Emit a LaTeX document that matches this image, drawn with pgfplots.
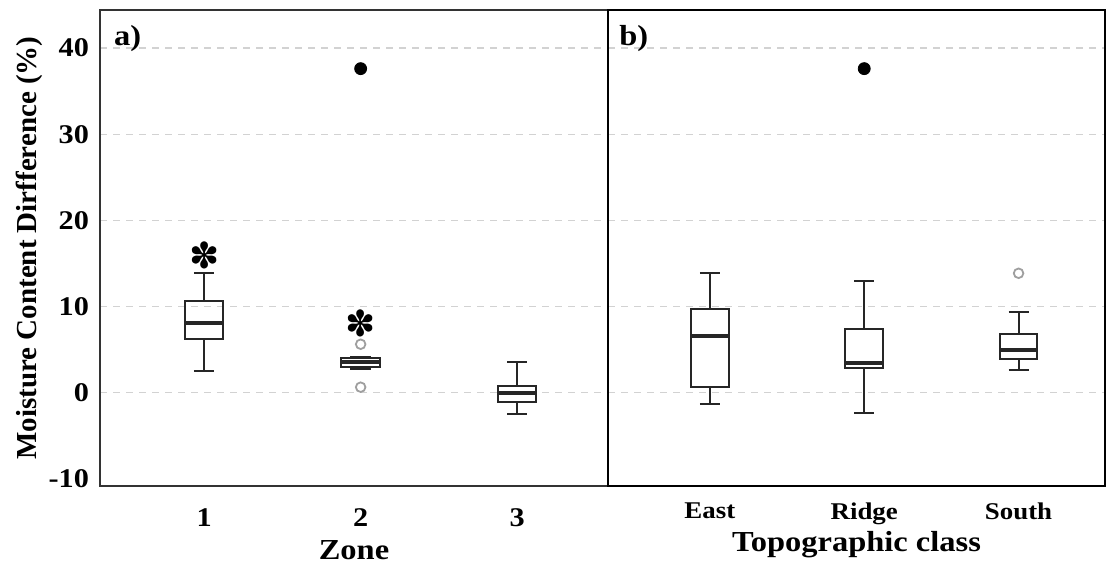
\documentclass[border=0pt]{standalone}
\usepackage{fontspec}
\setmainfont[FakeStretch=1.12]{Liberation Serif}
\newfontfamily\plainserif{Liberation Serif}
\newfontfamily\dejavu{DejaVu Sans}
\usepackage{pgfplots}
\pgfplotsset{compat=1.18}
\usepgfplotslibrary{statistics}
\begin{document}
\begin{tikzpicture}
\pgfplotsset{
  every axis/.append style={
    scale only axis,
    height=238pt,
    ymin=-10.8, ymax=44.4,
    ytick={0,10,20,30,40},
    extra y ticks={-10},
    extra y tick style={grid=none},
    ymajorgrids,
    grid style={dash pattern=on 3.5pt off 3pt, gray!35, line width=0.6pt},
    major tick length=0pt,
    axis line style={black!80, line width=0.8pt},
    /pgf/number format/assume math mode=true,
    ticklabel style={font=\fontsize{13.5}{15}\selectfont\bfseries},
    label style={font=\fontsize{14.5}{16}\selectfont\bfseries},
    xtick={1,2,3},
    boxplot/draw direction=y,
    boxplot/every box/.style={draw=black!85, line width=1pt},
    boxplot/every whisker/.style={draw=black!85, line width=1pt},
    boxplot/every median/.style={draw=black!85, line width=2pt},
  },
}
% ---------- panel a ----------
\begin{axis}[
  name=A, at={(0,0)}, anchor=south west,
  width=254pt,
  xmin=0.335, xmax=3.58,
  xticklabels={1,2,3},
  xticklabel style={yshift=-8pt},
  xlabel={Zone},
  xlabel style={yshift=0pt},
  ylabel={\plainserif\bfseries Moisture Content Dirfference (\%)},
  ylabel style={yshift=-4pt},
  yticklabel style={xshift=-2pt},
]
\addplot[boxplot prepared={draw position=1, lower whisker=2.55, lower quartile=6.22, median=8.08, upper quartile=10.67, upper whisker=13.9, box extend=0.245, whisker extend=0.13}] coordinates {};
\addplot[boxplot prepared={draw position=2, lower whisker=2.78, lower quartile=3.05, median=3.56, upper quartile=4.02, upper whisker=4.2, box extend=0.245, whisker extend=0.13}] coordinates {};
\addplot[boxplot prepared={draw position=3, lower whisker=-2.4, lower quartile=-1.08, median=-0.04, upper quartile=0.85, upper whisker=3.63, box extend=0.245, whisker extend=0.13}] coordinates {};
\addplot[only marks, mark=o, mark size=2.4pt, draw=gray!75, line width=0.9pt] coordinates {(2,5.64) (2,0.66)};
\addplot[only marks, mark=*, mark size=3pt, black] coordinates {(2,37.6)};
\addplot[only marks, mark=text, text mark={\dejavu\fontsize{18}{18}\selectfont ✽}, text mark as node=true] coordinates {(1,16.0) (2,8.1)};
\node[anchor=north west, font=\fontsize{14.5}{16}\selectfont\bfseries, inner sep=0pt] at (rel axis cs:0.027,0.968) {a)};
\end{axis}
% ---------- panel b ----------
\begin{axis}[
  name=B, at={(254pt,0)}, anchor=south west,
  width=248.5pt,
  xmin=0.34, xmax=3.56,
  xticklabels={East,Ridge,South},
  xticklabel style={yshift=-5pt, font=\fontsize{12}{14}\selectfont\bfseries},
  yticklabels={},
  extra y tick labels={},
  xlabel={Topographic class},
  xlabel style={yshift=3.5pt},
  axis line style={black, line width=0.9pt},
]
\addplot[boxplot prepared={draw position=1, lower whisker=-1.28, lower quartile=0.73, median=6.61, upper quartile=9.78, upper whisker=13.87, box extend=0.245, whisker extend=0.13}] coordinates {};
\addplot[boxplot prepared={draw position=2, lower whisker=-2.32, lower quartile=2.94, median=3.44, upper quartile=7.46, upper whisker=12.99, box extend=0.245, whisker extend=0.13}] coordinates {};
\addplot[boxplot prepared={draw position=3, lower whisker=2.67, lower quartile=3.98, median=4.95, upper quartile=6.84, upper whisker=9.43, box extend=0.245, whisker extend=0.13}] coordinates {};
\addplot[only marks, mark=o, mark size=2.4pt, draw=gray!75, line width=0.9pt] coordinates {(3,13.87)};
\addplot[only marks, mark=*, mark size=3pt, black] coordinates {(2,37.6)};
\node[anchor=north west, font=\fontsize{14.5}{16}\selectfont\bfseries, inner sep=0pt] at (rel axis cs:0.022,0.968) {b)};
\end{axis}
\useasboundingbox (-50pt,-39pt) rectangle (503.5pt,243pt);
\end{tikzpicture}
\end{document}
